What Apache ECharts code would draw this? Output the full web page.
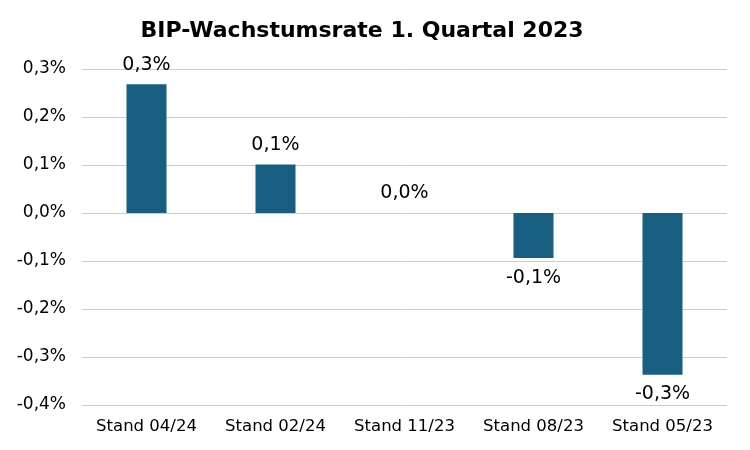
<!DOCTYPE html>
<html>
<head>
<meta charset="utf-8">
<script src="https://cdn.jsdelivr.net/npm/echarts@6/dist/echarts.min.js"></script>
<style>
  html, body { margin: 0; padding: 0; background: #fff; }
  #chart { width: 750px; height: 450px; }
</style>
</head>
<body>
<div id="chart"></div>
<script>
const categories = ['Stand 04/24', 'Stand 02/24', 'Stand 11/23', 'Stand 08/23', 'Stand 05/23']
const growth = [0.268, 0.101, 0.0, -0.094, -0.337]
const yTicks = [-0.4, -0.3, -0.2, -0.1, 0.0, 0.1, 0.2, 0.3]

const fmt = (v, d) => v.toFixed(d).replace('.', ',') + '%'
const font = 'DejaVu Sans, Verdana, sans-serif'

const chart = echarts.init(document.getElementById('chart'))
chart.setOption({
    animation: false,
    title: {
        text: 'BIP-Wachstumsrate 1. Quartal 2023',
        left: 357, top: 15, textAlign: 'center',
        textStyle: { fontFamily: font, fontSize: 22, fontWeight: 'bold', color: '#000' }
    },
    grid: { left: 82, right: 23, top: 69, bottom: 45 },
    xAxis: {
        type: 'category',
        data: categories,
        axisLine: { show: false },
        axisTick: { show: false },
        axisLabel: { interval: 0, fontFamily: font, fontSize: 16.5, color: '#000', margin: 13 }
    },
    yAxis: {
        type: 'value',
        min: yTicks[0], max: yTicks[yTicks.length - 1], interval: 0.1,
        axisLabel: { fontFamily: font, fontSize: 17, color: '#000', margin: 16,
            formatter: v => fmt(v, 1) },
        splitLine: { lineStyle: { color: '#cccccc', width: 1 } }
    },
    series: [{
        type: 'bar',
        barWidth: 40,
        itemStyle: { color: '#175e80' },
        data: growth.map(v => ({
            value: v,
            label: { position: v < 0 ? 'bottom' : 'top' }
        })),
        label: {
            show: true, distance: 10,
            fontFamily: font, fontSize: 19, color: '#000',
            formatter: p => fmt(p.value, 1)
        }
    }]
})
</script>
</body>
</html>
